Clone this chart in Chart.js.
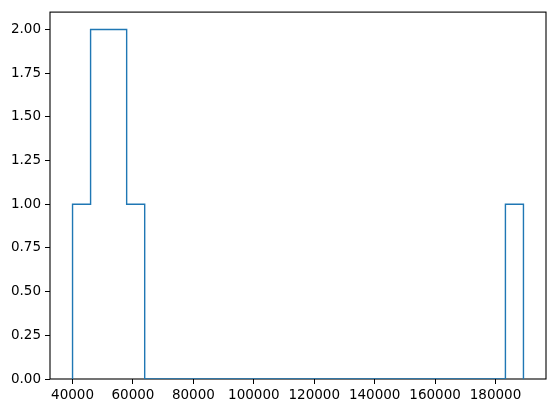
<!DOCTYPE html>
<html>
<head>
<meta charset="utf-8">
<script src="https://cdn.jsdelivr.net/npm/chart.js@4/dist/chart.umd.min.js"></script>
<style>
  html, body { margin: 0; padding: 0; background: #fff; }
  canvas { display: block; }
</style>
</head>
<body>
<canvas id="grafico" width="556" height="413"></canvas>
<script>
// histograma (histtype step) - 25 classes entre o menor e o maior valor
const binStart = 40000
const binEnd = 189250
const counts = [1, 2, 2, 1, 0, 0, 0, 0, 0, 0, 0, 0, 0, 0, 0, 0, 0, 0, 0, 0, 0, 0, 0, 0, 1]
const xTicks = [40000, 60000, 80000, 100000, 120000, 140000, 160000, 180000]
const yTicks = [0, 0.25, 0.5, 0.75, 1, 1.25, 1.5, 1.75, 2]

// bordas das classes
const largura = (binEnd - binStart) / counts.length
const edges = counts.map((c, i) => binStart + i * largura).concat([binEnd])

// contorno em degraus, igual ao step do matplotlib
const contorno = [{ x: edges[0], y: 0 }]
counts.forEach((c, i) => {
  contorno.push({ x: edges[i], y: c })
  contorno.push({ x: edges[i + 1], y: c })
})
contorno.push({ x: edges[edges.length - 1], y: 0 })

// margem de 5% como o matplotlib
const margem = (binEnd - binStart) * 0.05
const yMax = Math.max(...counts) * 1.05

const moldura = {
  id: 'moldura',
  beforeDatasetsDraw(chart) {
    const { ctx, chartArea: a } = chart
    ctx.save()
    ctx.strokeStyle = '#000'
    ctx.lineWidth = 1.1
    ctx.strokeRect(a.left, a.top, a.right - a.left, a.bottom - a.top)
    ctx.restore()
  }
}

const fonte = { family: 'DejaVu Sans', size: 13.5 }

new Chart(document.getElementById('grafico').getContext('2d'), {
  type: 'line',
  data: {
    datasets: [{
      data: contorno,
      borderColor: '#1f77b4',
      borderWidth: 1.4,
      pointRadius: 0,
      fill: false,
      tension: 0
    }]
  },
  options: {
    responsive: false,
    animation: false,
    layout: { padding: { top: 10, right: 10, left: 0, bottom: 0 } },
    plugins: { legend: { display: false }, tooltip: { enabled: false } },
    scales: {
      x: {
        type: 'linear',
        min: binStart - margem,
        max: binEnd + margem,
        afterBuildTicks: s => { s.ticks = xTicks.map(v => ({ value: v })) },
        afterFit: s => { s.height = 34 },
        ticks: { color: '#000', font: fonte, padding: 3, maxRotation: 0, callback: v => String(v) },
        grid: { display: true, drawOnChartArea: false, drawTicks: true, tickLength: 5, color: '#000' },
        border: { display: false }
      },
      y: {
        type: 'linear',
        min: 0,
        max: yMax,
        afterBuildTicks: s => { s.ticks = yTicks.map(v => ({ value: v })) },
        afterFit: s => { s.width = 50 },
        ticks: { color: '#000', font: fonte, padding: 4, callback: v => v.toFixed(2) },
        grid: { display: true, drawOnChartArea: false, drawTicks: true, tickLength: 5, color: '#000' },
        border: { display: false }
      }
    }
  },
  plugins: [moldura]
})
</script>
</body>
</html>
